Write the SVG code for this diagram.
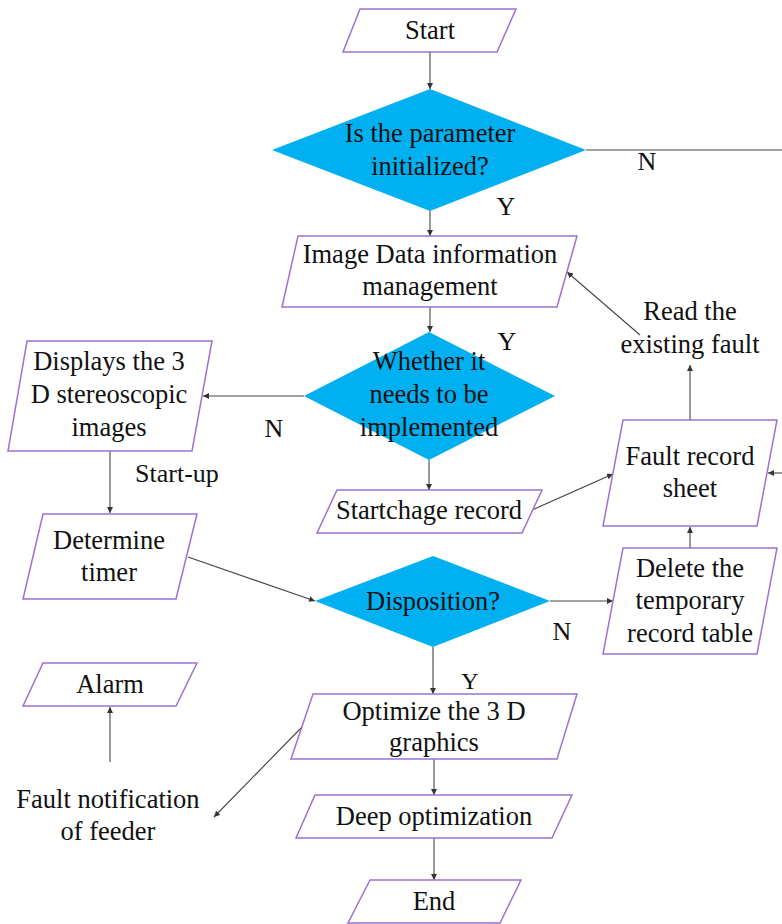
<svg xmlns="http://www.w3.org/2000/svg" width="782" height="924" viewBox="0 0 782 924">
<style>
.box{fill:#fff;stroke:#9b72d2;stroke-width:1.5}
.dia{fill:#00b0f0;stroke:none}
text{font-family:"Liberation Serif","Times New Roman",serif;font-size:26.5px;fill:#111;text-anchor:middle}
.lbl{font-size:26px}
.c line,.c polyline{stroke:#444;stroke-width:1.1;fill:none;marker-end:url(#ah)}
.c .plain{marker-end:none}
</style>
<defs>
<marker id="ah" viewBox="0 0 10 10" refX="10" refY="5" markerWidth="6" markerHeight="6" markerUnits="userSpaceOnUse" orient="auto">
<path d="M0,0 L10,5 L0,10 z" fill="#333"/>
</marker>
</defs>
<rect width="782" height="924" fill="#fff"/>

<g id="connectors" class="c">
<line x1="430" y1="52" x2="430" y2="89"/>
<line class="plain" x1="586" y1="150" x2="782" y2="150"/>
<line x1="430" y1="211" x2="430" y2="236"/>
<line x1="430" y1="307" x2="430" y2="332"/>
<line x1="304" y1="396" x2="203" y2="396"/>
<line x1="429" y1="460" x2="429" y2="490"/>
<line x1="110" y1="451" x2="110" y2="513"/>
<line x1="188" y1="557" x2="315" y2="601"/>
<line x1="550" y1="601" x2="613" y2="601"/>
<line x1="690" y1="548" x2="690" y2="527"/>
<line x1="782" y1="473" x2="768" y2="473"/>
<line x1="690" y1="420" x2="690" y2="365"/>
<line x1="640" y1="335" x2="567" y2="272"/>
<line x1="532" y1="510" x2="613" y2="474"/>
<line x1="433" y1="647" x2="433" y2="694"/>
<line x1="434" y1="759" x2="434" y2="795"/>
<line x1="434" y1="838" x2="434" y2="880"/>
<line x1="110" y1="762" x2="110" y2="707"/>
<line x1="302" y1="727" x2="214" y2="817"/>
</g>

<g id="start">
<polygon class="box" points="360,9 516,9 497,52 343,52"/>
<text x="430" y="39">Start</text>
</g>

<g id="param-initialized">
<polygon class="dia" points="430,89 586,150 430,211 272,150"/>
<text x="430" y="142">Is the parameter</text>
<text x="430" y="175">initialized?</text>
</g>

<g id="image-data">
<polygon class="box" points="298,236 577,236 557,307 282,307"/>
<text x="430" y="263">Image Data information</text>
<text x="430" y="295">management</text>
</g>

<g id="needs-implemented">
<polygon class="dia" points="429,332 555,396 429,460 304,396"/>
<text x="429" y="370">Whether it</text>
<text x="429" y="403">needs to be</text>
<text x="429" y="436">implemented</text>
</g>

<g id="displays-3d">
<polygon class="box" points="27,341 212,341 192,451 8,451"/>
<text x="109" y="370">Displays the 3</text>
<text x="109" y="403">D stereoscopic</text>
<text x="109" y="436">images</text>
</g>

<g id="startchage-record">
<polygon class="box" points="337,490 542,490 522,533 317,533"/>
<text x="429" y="519">Startchage record</text>
</g>

<g id="determine-timer">
<polygon class="box" points="43,514 197,514 176,599 23,599"/>
<text x="109" y="549">Determine</text>
<text x="109" y="581">timer</text>
</g>

<g id="disposition">
<polygon class="dia" points="433,556 550,601 433,647 315,601"/>
<text x="433" y="610">Disposition?</text>
</g>

<g id="fault-record-sheet">
<polygon class="box" points="623,420 777,420 757,526 603,526"/>
<text x="690" y="465">Fault record</text>
<text x="690" y="497">sheet</text>
</g>

<g id="delete-temp">
<polygon class="box" points="623,548 777,548 757,654 603,654"/>
<text x="690" y="577">Delete the</text>
<text x="690" y="609">temporary</text>
<text x="690" y="642">record table</text>
</g>

<g id="optimize-3d">
<polygon class="box" points="313,694 577,694 557,759 291,759"/>
<text x="434" y="720">Optimize the 3 D</text>
<text x="434" y="751">graphics</text>
</g>

<g id="deep-optimization">
<polygon class="box" points="315,795 572,795 552,838 296,838"/>
<text x="434" y="825">Deep optimization</text>
</g>

<g id="end">
<polygon class="box" points="370,880 521,880 500,923 348,923"/>
<text x="434" y="910">End</text>
</g>

<g id="alarm">
<polygon class="box" points="43,663 197,663 176,706 23,706"/>
<text x="110" y="693">Alarm</text>
</g>

<g id="labels">
<text class="lbl" x="647" y="170">N</text>
<text class="lbl" x="506" y="215">Y</text>
<text class="lbl" x="507" y="350">Y</text>
<text class="lbl" x="274" y="437">N</text>
<text class="lbl" x="177" y="482">Start-up</text>
<text class="lbl" x="562" y="640">N</text>
<text class="lbl" x="470" y="689" style="font-size:24px">Y</text>
<text x="690" y="320">Read the</text>
<text x="690" y="353">existing fault</text>
<text x="108" y="808">Fault notification</text>
<text x="108" y="840">of feeder</text>
</g>
</svg>
